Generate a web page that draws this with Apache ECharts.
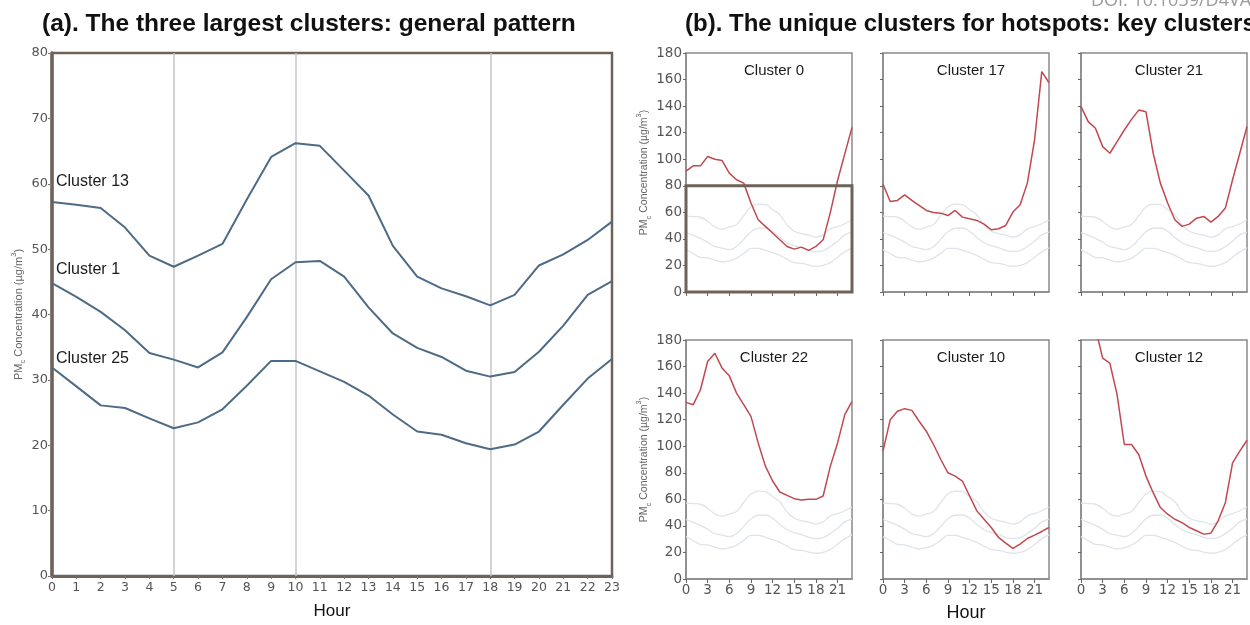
<!DOCTYPE html>
<html>
<head>
<meta charset="utf-8">
<script src="https://cdn.jsdelivr.net/npm/echarts@6/dist/echarts.min.js"></script>
<style>html,body{margin:0;padding:0;background:#fff}#c{width:1250px;height:625px}</style>
</head>
<body>
<div id="c"></div>
<script>
// ---------- data ----------
const hours = [0,1,2,3,4,5,6,7,8,9,10,11,12,13,14,15,16,17,18,19,20,21,22,23];
const cluster13 = [57.2,56.8,56.3,53.3,49.0,47.3,49.0,50.8,57.6,64.1,66.2,65.8,62.0,58.2,50.5,45.8,44.0,42.8,41.4,43.0,47.5,49.2,51.4,54.2];
const cluster1  = [44.8,42.7,40.4,37.6,34.1,33.1,31.9,34.2,39.6,45.4,48.0,48.2,45.8,41.1,37.1,34.9,33.5,31.4,30.5,31.2,34.3,38.3,43.0,45.1];
const cluster25 = [31.9,29.0,26.1,25.7,24.1,22.6,23.5,25.5,29.1,32.9,32.9,31.3,29.7,27.6,24.7,22.1,21.6,20.3,19.4,20.1,22.1,26.2,30.2,33.2];
const generalNames = ['Cluster 13','Cluster 1','Cluster 25'];
const hotNames = ['Cluster 0','Cluster 17','Cluster 21','Cluster 22','Cluster 10','Cluster 12'];
const cluster0  = [91,95,95,102,100,99,89.5,84.5,82,67,54.4,49.4,44.4,39.3,34.3,32.3,33.8,31.3,34.3,39.3,60,84,104,124];
const cluster17 = [81.2,68.2,69,73.2,69,65.2,61.4,59.9,59.4,57.6,61.4,56.4,55.1,53.9,51.1,46.9,47.6,50.1,60.2,65.7,82,114.5,166,157.6];
const cluster21 = [139.6,128.3,123.3,109.5,104.5,113.3,122,130,137,135.8,104.5,82,67,54.4,49.4,51.1,55.6,56.9,52.6,56.9,63.2,84.5,104.5,124.6];
const cluster22 = [133,131.3,142.5,163.8,170,158.8,153,140,131.3,122.5,102.5,85,73.8,65.5,63,60.5,59.5,60,60,62.5,85,102.5,123.8,133.8];
const cluster10 = [96.3,120,126.3,128.3,127,118.8,111.3,101.3,90,80,77.5,73.8,62.5,51.3,45,38.8,31.3,27,23,26.3,30.5,33,35.8,38.8];
const cluster12 = [210,198,189,166.3,162.5,138.8,101.3,101.3,93.8,77.5,65,53.8,48.8,45,42.5,38.8,36.3,33.8,34.5,43.8,57.5,87.5,96.3,104.5];
const hotValues = [cluster0, cluster17, cluster21, cluster22, cluster10, cluster12];
const smallXTicks = [0,3,6,9,12,15,18,21];
const highlightBox = [[0,0],[23,80]];

// ---------- styles ----------
const BROWN = '#6f6259';
const BLUE = '#4e6b86';
const RED = '#c24850';
const PALE = '#dfe4ea';
const FRAME = '#8a8a8a';
const TICKC = '#555';
const numFont = 'DejaVu Sans';
const txtFont = 'Liberation Sans';

const pair = arr => arr.map((v,i)=>[hours[i], v]);
const yNameRich = (fs) => ({
  s:{fontSize:fs*0.7, verticalAlign:'bottom', color:'#666', fontFamily:txtFont, padding:[0,0,-3,0]},
  p:{fontSize:fs*0.7, verticalAlign:'top', color:'#666', fontFamily:txtFont, padding:[-3,0,0,0]}
});
const yName = 'PM{s|c} Concentration (\u00b5g/m{p|3})';

const grids = [{left:52, top:53, width:560, height:526, show:true, borderColor:BROWN, borderWidth:2.5}];
const xAxes = [{
  gridIndex:0, type:'value', min:0, max:23, interval:1,
  axisLine:{show:true, onZero:false, lineStyle:{color:BROWN, width:3}},
  axisTick:{show:true, length:3, lineStyle:{color:'#777'}},
  axisLabel:{color:TICKC, fontSize:12.5, fontFamily:numFont, margin:5},
  splitLine:{show:false},
  name:'Hour', nameLocation:'middle', nameGap:27,
  nameTextStyle:{fontSize:17, color:'#111', fontFamily:txtFont}
}];
const yAxes = [{
  gridIndex:0, type:'value', min:0, max:80, interval:10,
  axisLine:{show:true, lineStyle:{color:BROWN, width:3.5}},
  axisTick:{show:true, length:4, lineStyle:{color:'#777'}},
  axisLabel:{color:TICKC, fontSize:13, fontFamily:numFont, margin:4},
  splitLine:{show:false},
  name:yName, nameLocation:'middle', nameGap:28,
  nameTextStyle:{fontSize:11, color:'#666', fontFamily:txtFont, rich:yNameRich(11)}
}];

const lefts = [686, 883, 1081];
const tops = [53, 340];
const titles = [
  {text:'(a). The three largest clusters: general pattern', left:37, top:7,
   textStyle:{fontSize:24.5, fontWeight:'bold', color:'#111', fontFamily:txtFont}},
  {text:'(b). The unique clusters for hotspots: key clusters', left:680, top:7,
   textStyle:{fontSize:24, fontWeight:'bold', color:'#111', fontFamily:txtFont}},
  {text:'DOI: 10.1039/D4VA', left:1086, top:-13,
   textStyle:{fontSize:18, fontWeight:'normal', color:'#9a9a9a', fontFamily:'Open Sans'}}
];

const series = [];
const genArrays = [cluster13, cluster1, cluster25];
const labelOffsets = [-20, -14, -9];
genArrays.forEach((arr, k) => {
  const s = {
    type:'line', xAxisIndex:0, yAxisIndex:0, data:pair(arr), showSymbol:false, symbol:'none',
    lineStyle:{color:BLUE, width:2}, z:3, silent:true,
    markPoint:{symbol:'circle', symbolSize:0, silent:true,
      data:[{coord:[hours[0], arr[0]], label:{show:true, formatter:generalNames[k], position:'right', distance:4,
        offset:[0, labelOffsets[k]], fontSize:16, color:'#1a1a1a', fontFamily:txtFont}}]}
  };
  if (k === 0) {
    s.markLine = {symbol:'none', silent:true, z:1, label:{show:false},
      lineStyle:{color:'#c4c4c4', width:1.5, type:'solid'},
      data:[{xAxis:5},{xAxis:10},{xAxis:18}]};
  }
  series.push(s);
});

hotValues.forEach((arr, i) => {
  const col = i % 3, row = Math.floor(i / 3);
  const gi = i + 1;
  grids.push({left:lefts[col], top:tops[row], width:166, height:239, show:true, borderColor:FRAME, borderWidth:1.5});
  const xa = {
    gridIndex:gi, type:'value', min:0, max:23, interval:3,
    axisLine:{show:true, onZero:false, lineStyle:{color:FRAME, width:1.5}},
    axisTick:{show:true, length:4, customValues:smallXTicks, lineStyle:{color:'#666'}},
    axisLabel:{show:row===1, customValues:smallXTicks, color:TICKC, fontSize:13.5, fontFamily:numFont, margin:4},
    splitLine:{show:false}
  };
  if (i === 4) {
    xa.name = 'Hour'; xa.nameLocation = 'middle'; xa.nameGap = 25;
    xa.nameTextStyle = {fontSize:18, color:'#111', fontFamily:txtFont};
  }
  xAxes.push(xa);
  const ya = {
    gridIndex:gi, type:'value', min:0, max:180, interval:20,
    axisLine:{show:true, lineStyle:{color:FRAME, width:1.5}},
    axisTick:{show:true, length:3, lineStyle:{color:'#666'}},
    axisLabel:{show:col===0, color:TICKC, fontSize:13.5, fontFamily:numFont, margin:4},
    splitLine:{show:false}
  };
  if (col === 0) {
    ya.name = yName; ya.nameLocation = 'middle'; ya.nameGap = 34;
    ya.nameTextStyle = {fontSize:10.5, color:'#666', fontFamily:txtFont, rich:yNameRich(10.5)};
  }
  yAxes.push(ya);
  genArrays.forEach(g => {
    series.push({type:'line', xAxisIndex:gi, yAxisIndex:gi, data:pair(g), showSymbol:false, symbol:'none',
      smooth:0.4, lineStyle:{color:PALE, width:1.3}, z:2, silent:true});
  });
  const red = {type:'line', xAxisIndex:gi, yAxisIndex:gi, data:pair(arr), showSymbol:false, symbol:'none',
    clip:true, lineStyle:{color:RED, width:1.5}, z:4, silent:true};
  if (i === 0) {
    red.markArea = {silent:true, z:5,
      itemStyle:{color:'rgba(0,0,0,0)', borderColor:BROWN, borderWidth:3},
      label:{show:true, position:'insideBottomLeft', distance:[6,3],
        formatter:'{n|Clusters }{b|13, 1, 25}',
        rich:{n:{fontSize:16, color:'#1a1a1a', fontFamily:txtFont},
              b:{fontSize:16, fontWeight:'bold', color:'#1a1a1a', fontFamily:txtFont}}},
      data:[[{coord:highlightBox[0]},{coord:highlightBox[1]}]]};
  }
  series.push(red);
  titles.push({text:hotNames[i], left:lefts[col] + 83, top:tops[row] + 5, textAlign:'center',
    textStyle:{fontSize:15, fontWeight:'normal', color:'#1a1a1a', fontFamily:txtFont}});
});

const chart = echarts.init(document.getElementById('c'), null, {renderer:'canvas'});
chart.setOption({
  backgroundColor:'#fff',
  animation:false,
  title:titles,
  grid:grids,
  xAxis:xAxes,
  yAxis:yAxes,
  series:series
});
</script>
</body>
</html>
